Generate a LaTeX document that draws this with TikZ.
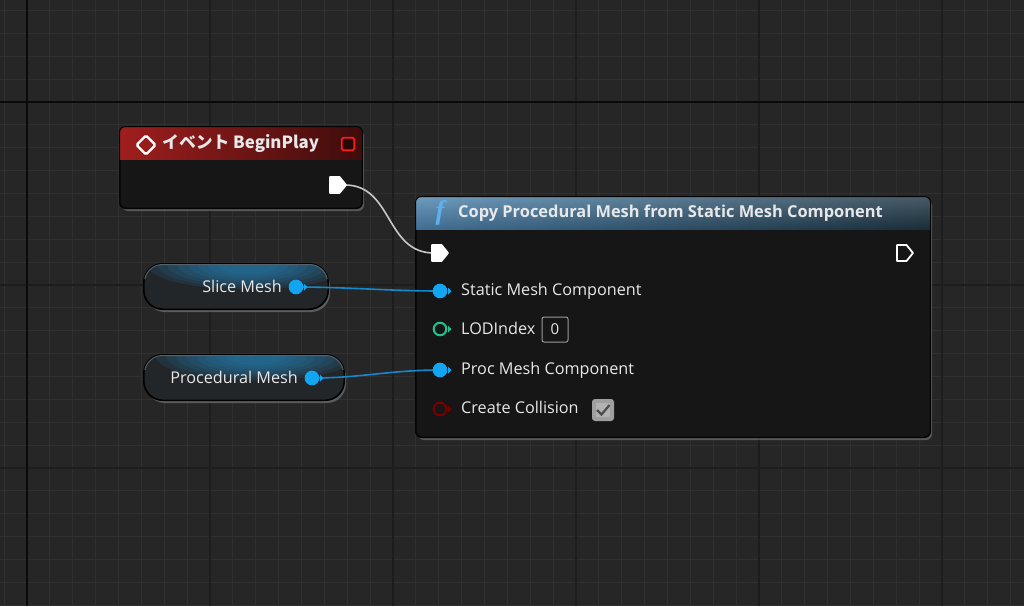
\documentclass[tikz,border=0pt]{standalone}
\usepackage{fontspec}
\setmainfont{Open Sans}
\newfontfamily\cjk{Noto Sans CJK JP}
\newfontfamily\fserif{Liberation Serif}
\usetikzlibrary{shadows,calc}
\definecolor{bg}{HTML}{262626}
\definecolor{gridminor}{HTML}{303030}
\definecolor{gridmajor}{HTML}{1D1D1D}
\definecolor{axis}{HTML}{0A0A0A}
\definecolor{nodebody}{HTML}{161616}
\definecolor{nodeedge}{HTML}{050505}
\definecolor{pinblue}{HTML}{12A6F2}
\definecolor{wireblue}{HTML}{1488CC}
\definecolor{pingreen}{HTML}{1FC28E}
\definecolor{pinred}{HTML}{7A0000}
\definecolor{txt}{HTML}{E8E8E8}
\definecolor{evleft}{HTML}{A01E1E}
\definecolor{evright}{HTML}{3E0C0C}
\definecolor{fnleft}{HTML}{4F86B0}
\definecolor{fnright}{HTML}{1F3645}
\definecolor{ficon}{HTML}{5CB2EE}
\definecolor{wiregray}{HTML}{C8C8C8}
\definecolor{pilldark}{HTML}{222629}
\definecolor{pillglow}{HTML}{2A86BE}
\definecolor{pilledge}{HTML}{56616A}
\tikzset{
  nodebox/.style={draw=nodeedge, line width=1pt, fill=nodebody, rounded corners=6pt,
    drop shadow={shadow xshift=2pt, shadow yshift=-3pt, opacity=0.55}, inner sep=0pt},
  pillbox/.style={draw=black, line width=1pt, rounded corners=19pt, inner sep=0pt, fill=pilldark,
    drop shadow={shadow xshift=2pt, shadow yshift=-3pt, opacity=0.6}},
  pinlabel/.style={anchor=west, text=txt, inner sep=0pt, font=\fontsize{16.2}{19}\selectfont},
  titlelabel/.style={anchor=west, text=txt, inner sep=0pt, font=\bfseries\fontsize{16.4}{19}\selectfont},
  exwire/.style={draw=wiregray, line width=1.6pt},
  datawire/.style={draw=wireblue, line width=1.6pt},
  glowlayer/.style={fill=pillglow, opacity=0.13},
}
% data pin: #1 coordinate, #2 colour, #3 fill colour
\newcommand\DataPinAt[3]{%
  \fill[#2] ($(#1)+(8,-3.5)$) -- ($(#1)+(11.5,0)$) -- ($(#1)+(8,3.5)$) -- cycle;
  \draw[#2, line width=2pt, fill=#3] (#1) circle (6.3pt);
}
\newcommand\ExecPinAt[2]{%
  \draw[white, line width=1.8pt, line join=round, fill=#2]
    ($(#1)+(-8,-8)$) -- ($(#1)+(1.5,-8)$) -- ($(#1)+(8,0)$) -- ($(#1)+(1.5,8)$) -- ($(#1)+(-8,8)$) -- cycle;
}
% pill glow: #1 node name
\newcommand\PillGlow[1]{%
  \begin{scope}
    \clip[rounded corners=19pt] (#1.north west) rectangle (#1.south east);
    \foreach \k in {0,...,7} {
      \fill[glowlayer] ($(#1.north)+(12,2)$) ellipse ({100-10*\k} and {24-2.2*\k});
    }
  \end{scope}
  \draw[black, line width=1pt, rounded corners=19pt] (#1.north west) rectangle (#1.south east);
  \begin{scope}
    \clip ($(#1.north west)+(-2,-2)$) rectangle ($(#1.east)+(2,-8)$);
    \draw[pilledge, line width=1pt, rounded corners=18pt] ($(#1.north west)+(1,1)$) rectangle ($(#1.south east)+(-1,-1)$);
  \end{scope}
}
\begin{document}
\begin{tikzpicture}[x=1pt,y=-1pt]
\useasboundingbox (0,0) rectangle (1024,606);
\fill[bg] (0,0) rectangle (1024,606);
% grid
\foreach \i in {-2,...,44} {
  \draw[gridminor, line width=1.2pt] ({27+22.875*\i},0) -- ({27+22.875*\i},606);
}
\foreach \i in {-5,...,23} {
  \draw[gridminor, line width=1.2pt] (0,{102+22.875*\i}) -- (1024,{102+22.875*\i});
}
\foreach \i in {1,...,5} {
  \draw[gridmajor, line width=1.3pt] ({27+183*\i},0) -- ({27+183*\i},606);
}
\foreach \i in {1,2,3} {
  \draw[gridmajor, line width=1.3pt] (0,{102+183*\i}) -- (1024,{102+183*\i});
}
\draw[axis, line width=1.6pt] (27,0) -- (27,606);
\draw[axis, line width=1.6pt] (0,102) -- (1024,102);

% ---------- event node ----------
\node[nodebox, minimum width=242pt, minimum height=81pt] (ev) at (241,167.5) {};
\begin{scope}
  \clip[rounded corners=6pt] (ev.north west) rectangle (ev.south east);
  \shade[left color=evleft, right color=evright] (ev.north west) rectangle ($(ev.north east)+(0,33)$);
\end{scope}
\draw[nodeedge, line width=1pt, rounded corners=6pt] (ev.north west) rectangle (ev.south east);
\draw[white, line width=2.4pt, rounded corners=1.5pt] (136.5,145) -- (146,135.5) -- (155.5,145) -- (146,154.5) -- cycle;
\node[titlelabel, font=\cjk\bfseries\fontsize{16.8}{19}\selectfont] (evtitle) at (162,144) {イベント BeginPlay};
\node[draw=red!90!white, line width=1.8pt, fill=evright!60!black, minimum size=12.5pt, inner sep=0pt, rounded corners=2pt] (evdel) at (348,144) {};
\coordinate (evexec) at (338,185);

% ---------- function node ----------
\node[nodebox, minimum width=514pt, minimum height=240pt] (fn) at (673,317) {};
\begin{scope}
  \clip[rounded corners=6pt] (fn.north west) rectangle (fn.south east);
  \shade[left color=fnleft, right color=fnright] (fn.north west) rectangle ($(fn.north east)+(0,33)$);
  \shade[top color=white, bottom color=black, opacity=0.18] (fn.north west) rectangle ($(fn.north east)+(0,33)$);
\end{scope}
\draw[nodeedge, line width=1pt, rounded corners=6pt] (fn.north west) rectangle (fn.south east);
\node[text=ficon, inner sep=0pt, font=\fserif\bfseries\itshape\fontsize{27}{28}\selectfont] (ficon) at (440,213) {f};
\node[titlelabel] (fntitle) at (458,213) {Copy Procedural Mesh from Static Mesh Component};
\coordinate (fnexecin) at (440,253);
\coordinate (fnexecout) at (905,253);
\coordinate (pinsmc) at (440,291);
\coordinate (pinlod) at (440,329);
\coordinate (pinproc) at (440,370);
\coordinate (pincol) at (440,409);
\node[pinlabel] (lsmc) at (461,291) {Static Mesh Component};
\node[pinlabel] (llod) at (461,328) {LODIndex};
\node[pinlabel] (lproc) at (461,370) {Proc Mesh Component};
\node[pinlabel] (lcol) at (461,407) {Create Collision};
\node[draw=gray!80, line width=1pt, rounded corners=2pt, minimum width=26pt, minimum height=25pt, inner sep=0pt, text=txt, font=\fontsize{15}{18}\selectfont] (lodbox) at (555,329.5) {0};
\node[fill=gray!75, rounded corners=3pt, minimum size=22pt, inner sep=0pt] (chk) at (603,410) {};
\fill[gray!60] ($(chk.center)+(-7,-7)$) rectangle ($(chk.center)+(7,7)$);
\draw[black!70, line width=2.2pt, line join=miter] ($(chk.center)+(-6,0)$) -- ($(chk.center)+(-1.5,4.5)$) -- ($(chk.center)+(6.5,-5)$);

% ---------- variable nodes ----------
\node[pillbox, minimum width=184pt, minimum height=45pt] (slice) at (236,286.5) {};
\PillGlow{slice}
\node[pinlabel, anchor=east] (lslice) at (282,286) {Slice Mesh};
\coordinate (slicepin) at (296,287);
\node[pillbox, minimum width=200pt, minimum height=45pt] (procvar) at (244,377.5) {};
\PillGlow{procvar}
\node[pinlabel, anchor=east] (lprocvar) at (298,377) {Procedural Mesh};
\coordinate (procpin) at (312,378);

% ---------- wires ----------
\draw[exwire] ($(evexec)+(7,0)$) .. controls ($(evexec)+(55,0)$) and ($(fnexecin)+(-55,0)$) .. ($(fnexecin)+(-6,0)$);
\draw[datawire] (slicepin) .. controls ($(slicepin)+(50,0)$) and ($(pinsmc)+(-50,0)$) .. (pinsmc);
\draw[datawire] (procpin) .. controls ($(procpin)+(50,0)$) and ($(pinproc)+(-50,0)$) .. (pinproc);

% ---------- pins ----------
\ExecPinAt{evexec}{white}
\ExecPinAt{fnexecin}{white}
\ExecPinAt{fnexecout}{nodebody}
\DataPinAt{slicepin}{pinblue}{pinblue}
\DataPinAt{procpin}{pinblue}{pinblue}
\DataPinAt{pinsmc}{pinblue}{pinblue}
\DataPinAt{pinlod}{pingreen}{nodebody}
\DataPinAt{pinproc}{pinblue}{pinblue}
\DataPinAt{pincol}{pinred}{nodebody}
\end{tikzpicture}
\end{document}
